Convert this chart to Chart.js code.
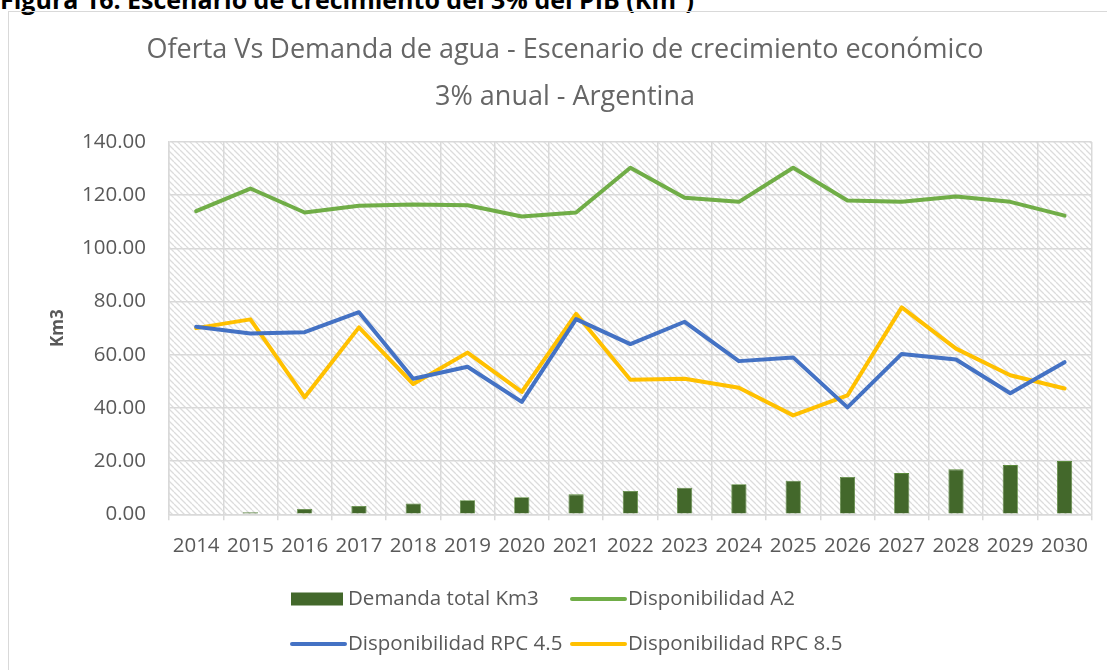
<!DOCTYPE html>
<html><head><meta charset="utf-8">
<script src="https://cdn.jsdelivr.net/npm/chart.js@4/dist/chart.umd.min.js"></script>
<style>
html,body{margin:0;padding:0;background:#fff;overflow:hidden;}
#wrap{position:relative;width:1107px;height:670px;overflow:hidden;}
#caption{position:absolute;left:0;top:-18.5px;font:bold 25px "Open Sans";line-height:normal;color:#000;white-space:nowrap;}
#frame{position:absolute;left:8px;top:11px;width:1130px;height:720px;border:1.5px solid #d9d9d9;box-sizing:border-box;}
canvas{position:absolute;left:0;top:0;}
</style></head>
<body><div id="wrap"><div id="caption">Figura 16: Escenario de crecimiento del 3% del PIB (Km³)</div><div id="frame"></div><canvas id="c" width="1107" height="670"></canvas></div>
<script>
const years = ['2014','2015','2016','2017','2018','2019','2020','2021','2022','2023','2024','2025','2026','2027','2028','2029','2030'];
const demanda = [0, 0.8, 2.0, 3.1, 4.1, 5.3, 6.4, 7.5, 8.8, 10.0, 11.3, 12.6, 14.0, 15.5, 16.9, 18.5, 20.0];
const dispA2 = [114, 122.5, 113.5, 116, 116.5, 116.2, 112, 113.5, 130.3, 119, 117.5, 130.3, 118, 117.5, 119.5, 117.5, 112.3];
const rpc45 = [70.5, 68, 68.5, 76, 51, 55.5, 42.3, 73.4, 64, 72.4, 57.6, 59, 40.2, 60.3, 58.2, 45.5, 57.2];
const rpc85 = [70, 73.3, 44, 70.3, 49, 60.8, 46, 75.4, 50.6, 51, 47.6, 37.2, 44.7, 77.8, 62.3, 52.3, 47.3];
const seriesNames = ['Demanda total Km3','Disponibilidad A2','Disponibilidad RPC 4.5','Disponibilidad RPC 8.5'];
const titleLines = ['Oferta Vs Demanda de agua - Escenario de crecimiento económico','3% anual - Argentina'];
const yAxisTitle = 'Km3';
const yMin = 0, yMax = 140, yStep = 20;

const FONT = '"Open Sans", "DejaVu Sans", sans-serif';
const TXT = '#595959';
const GRID = '#d9d9d9';

// hatch pattern
const pc = document.createElement('canvas'); pc.width = 6; pc.height = 6;
const p = pc.getContext('2d');
p.fillStyle = '#fff'; p.fillRect(0,0,6,6);
p.strokeStyle = '#dcdcdc'; p.lineWidth = 1.3;
p.beginPath();
for (const k of [-6,0,6]) { p.moveTo(k,0); p.lineTo(k+6,6); }
p.stroke();

const hatchPlugin = {
  id: 'hatch',
  beforeDraw(chart) {
    const {ctx, chartArea:{left,top,right,bottom}} = chart;
    ctx.save();
    ctx.fillStyle = ctx.createPattern(pc, 'repeat');
    ctx.fillRect(left, top, right-left, bottom-top);
    ctx.restore();
  }
};

const legendPlugin = {
  id: 'customLegend',
  afterDraw(chart) {
    const ctx = chart.ctx;
    const spots = [[0,291,599],[1,571,599],[2,291,644],[3,571,644]];
    ctx.save();
    ctx.font = '20.5px ' + FONT;
    ctx.textBaseline = 'middle';
    for (const [i,x,y] of spots) {
      const ds = chart.data.datasets[i];
      if (ds.type === 'bar') {
        ctx.fillStyle = ds.backgroundColor;
        ctx.fillRect(x, y-6.5, 52, 13);
      } else {
        ctx.strokeStyle = ds.borderColor; ctx.lineWidth = 4; ctx.lineCap = 'round';
        ctx.beginPath(); ctx.moveTo(x+1, y); ctx.lineTo(x+54, y); ctx.stroke();
      }
      ctx.fillStyle = TXT;
      ctx.fillText(ds.label, x + 57, y);
    }
    ctx.restore();
  }
};

const lineDs = (label, data, color) => ({
  type: 'line', label, data, borderColor: color, backgroundColor: color,
  borderWidth: 4, pointRadius: 0, tension: 0, borderJoinStyle: 'round', borderCapStyle: 'round', fill: false
});

const PAD_L = 38.3;
new Chart(document.getElementById('c'), {
  data: {
    labels: years,
    datasets: [
      { type: 'bar', label: seriesNames[0], data: demanda, backgroundColor: '#43682b', borderColor: '#5b8a3c', borderWidth: 0.8,
        categoryPercentage: 1, barPercentage: 0.28, order: 5 },
      lineDs(seriesNames[1], dispA2, '#70ad47'),
      lineDs(seriesNames[2], rpc45, '#4472c4'),
      lineDs(seriesNames[3], rpc85, '#ffc000')
    ]
  },
  options: {
    responsive: false, animation: false, devicePixelRatio: 1,
    layout: { padding: { left: PAD_L, right: 15.3, top: 0, bottom: 105.7 } },
    plugins: {
      legend: { display: false },
      tooltip: { enabled: false },
      title: { display: true, text: titleLines, color: '#666666',
        font: { family: FONT, size: 27, weight: 'normal', lineHeight: 47 / 27 },
        padding: { top: 27, bottom: 21 } }
    },
    scales: {
      x: {
        offset: true,
        grid: { offset: true, color: GRID, lineWidth: 1.5, tickLength: 6, drawTicks: true },
        border: { display: true, color: GRID, width: 1.5 },
        ticks: { color: TXT, font: { family: FONT, size: 20.5 }, padding: 14, maxRotation: 0, autoSkip: false },
        afterFit(s) { s.height = 50; }
      },
      y: {
        min: yMin, max: yMax,
        grid: { color: GRID, lineWidth: 1.5, drawTicks: false },
        border: { display: true, color: GRID, width: 1.5 },
        ticks: { stepSize: yStep, color: TXT, font: { family: FONT, size: 20.5 }, padding: 23,
          callback: v => Number(v).toFixed(2) },
        title: { display: true, text: yAxisTitle, color: TXT, font: { family: FONT, size: 17, weight: 'bold' },
          padding: { top: 48 - PAD_L, bottom: 0 } },
        afterFit(s) { s.width = 169 - PAD_L; }
      }
    }
  },
  plugins: [hatchPlugin, legendPlugin]
});
</script>
</body></html>
